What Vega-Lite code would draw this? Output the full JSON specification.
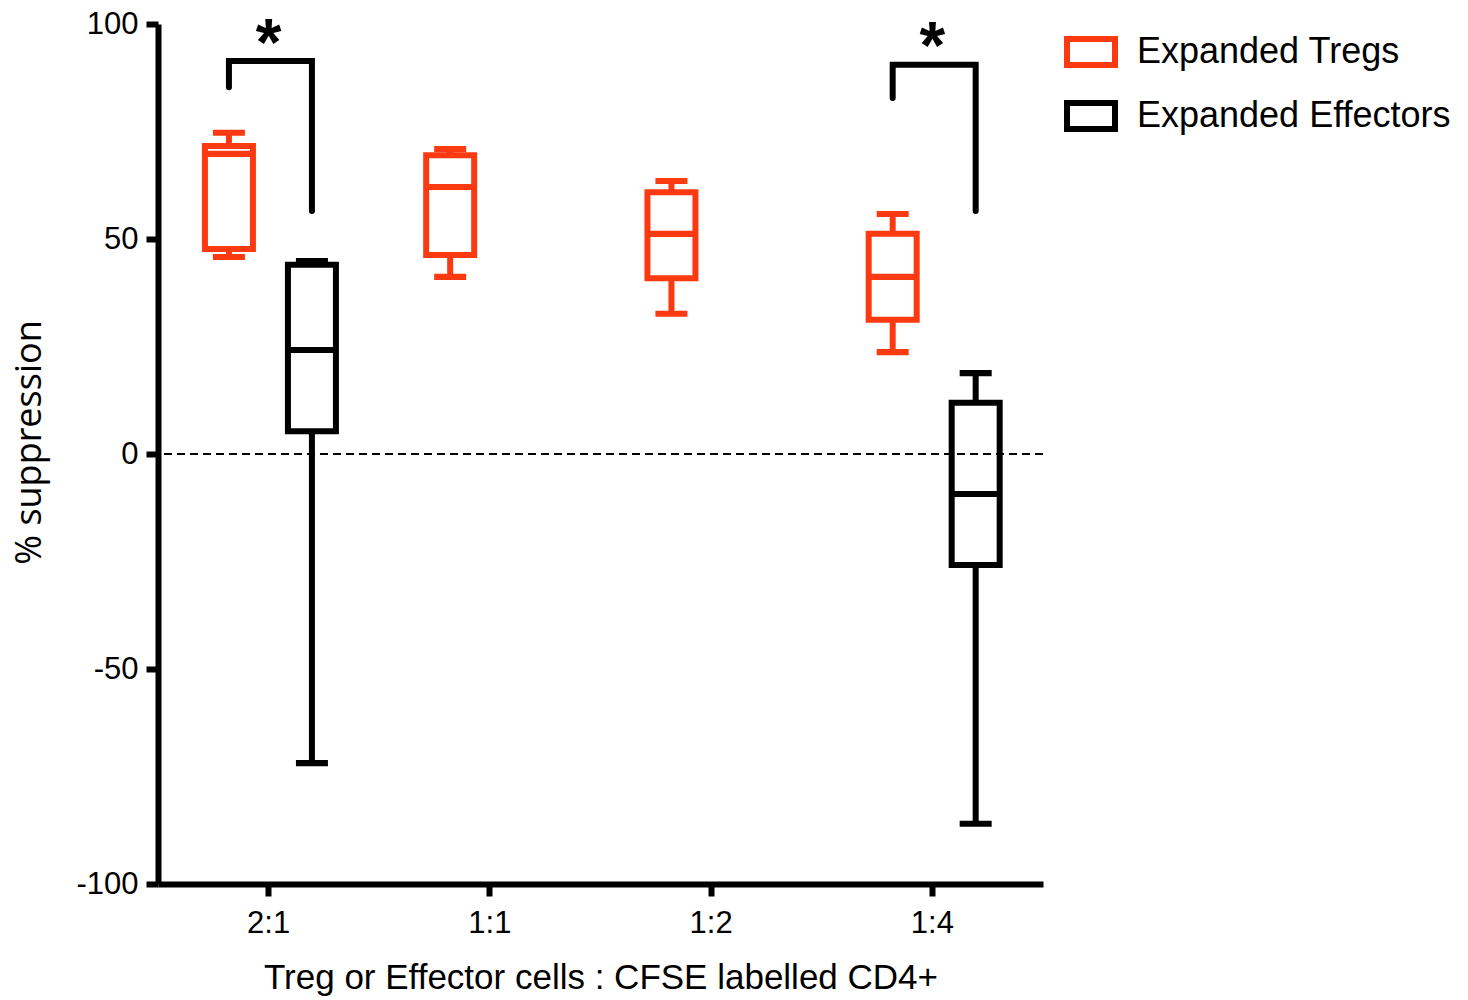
{
  "$schema": "https://vega.github.io/schema/vega-lite/v6.json",
  "width": 885,
  "height": 860,
  "autosize": "none",
  "padding": {"left": 158, "top": 24, "right": 425, "bottom": 116},
  "background": "white",
  "config": {
    "view": {"stroke": null},
    "font": "Liberation Sans",
    "tick": {"opacity": 1},
    "axis": {
      "grid": false,
      "domainColor": "black",
      "domainWidth": 6,
      "tickColor": "black",
      "tickWidth": 6,
      "tickSize": 12,
      "labelFont": "Liberation Sans",
      "labelFontSize": 31,
      "labelColor": "black",
      "titleFont": "Liberation Sans",
      "titleFontSize": 35,
      "titleFontWeight": "normal",
      "titleColor": "black"
    },
    "legend": {
      "orient": "none",
      "legendX": 906,
      "legendY": 1,
      "labelFont": "Liberation Sans",
      "labelFontSize": 36,
      "labelColor": "black",
      "labelLimit": 0,
      "symbolType": "M-1,-0.54H1V0.54H-1Z",
      "symbolSize": 2304,
      "symbolStrokeWidth": 6,
      "symbolFillColor": "white",
      "symbolOpacity": 1,
      "labelOffset": 19,
      "rowPadding": 12,
      "title": null
    }
  },
  "datasets": {
    "boxes": [
      {"ratio": "2:1", "group": "Expanded Tregs", "min": 45.8, "q1": 47.7, "median": 69.8, "q3": 71.6, "max": 74.7},
      {"ratio": "2:1", "group": "Expanded Effectors", "min": -71.9, "q1": 5.3, "median": 24.2, "q3": 44.0, "max": 44.9},
      {"ratio": "1:1", "group": "Expanded Tregs", "min": 41.2, "q1": 46.3, "median": 62.1, "q3": 69.5, "max": 70.9},
      {"ratio": "1:2", "group": "Expanded Tregs", "min": 32.6, "q1": 40.9, "median": 51.2, "q3": 60.9, "max": 63.5},
      {"ratio": "1:4", "group": "Expanded Tregs", "min": 23.7, "q1": 31.2, "median": 41.2, "q3": 51.2, "max": 55.8},
      {"ratio": "1:4", "group": "Expanded Effectors", "min": -86.0, "q1": -25.8, "median": -9.3, "q3": 11.9, "max": 18.8}
    ],
    "brackets": [
      {"ratio": "2:1", "group": "Expanded Tregs", "value": 85.3, "bracket": "a", "o": 1},
      {"ratio": "2:1", "group": "Expanded Tregs", "value": 91.4, "bracket": "a", "o": 2},
      {"ratio": "2:1", "group": "Expanded Effectors", "value": 91.4, "bracket": "a", "o": 3},
      {"ratio": "2:1", "group": "Expanded Effectors", "value": 56.5, "bracket": "a", "o": 4},
      {"ratio": "1:4", "group": "Expanded Tregs", "value": 82.8, "bracket": "b", "o": 1},
      {"ratio": "1:4", "group": "Expanded Tregs", "value": 90.5, "bracket": "b", "o": 2},
      {"ratio": "1:4", "group": "Expanded Effectors", "value": 90.5, "bracket": "b", "o": 3},
      {"ratio": "1:4", "group": "Expanded Effectors", "value": 56.5, "bracket": "b", "o": 4}
    ],
    "stars": [
      {"ratio": "2:1", "value": 98.0, "label": "*"},
      {"ratio": "1:4", "value": 97.3, "label": "*"}
    ]
  },
  "data": {"name": "boxes"},
  "encoding": {
    "x": {
      "field": "ratio",
      "type": "nominal",
      "sort": ["2:1", "1:1", "1:2", "1:4"],
      "scale": {"domain": ["2:1", "1:1", "1:2", "1:4"], "paddingInner": 0, "paddingOuter": 0},
      "axis": {"title": "Treg or Effector cells : CFSE labelled CD4+", "labelAngle": 0, "labelPadding": 12, "titlePadding": 22}
    }
  },
  "layer": [
    {
      "data": {"values": [{"z": 0}]},
      "mark": {"type": "rule", "strokeDash": [8, 5], "strokeWidth": 2, "color": "black"},
      "encoding": {"x": null, "y": {"field": "z", "type": "quantitative"}}
    },
    {
      "mark": {"type": "bar", "filled": false, "fill": "transparent", "strokeWidth": 6},
      "encoding": {
        "xOffset": {"field": "group", "type": "nominal", "scale": {"domain": ["Expanded Tregs", "Expanded Effectors"], "paddingInner": 0.4217, "paddingOuter": 0.5437, "align": 0.52}},
        "y": {
          "field": "q1",
          "type": "quantitative",
          "scale": {"domain": [-100, 100], "nice": false, "zero": false},
          "axis": {"title": "% suppression", "titleFont": "Open Sans", "titleFontSize": 36, "titleY": 418, "values": [-100, -50, 0, 50, 100], "labelExpr": "'' + datum.value", "labelPadding": 8, "titlePadding": 27}
        },
        "y2": {"field": "q3"},
        "stroke": {
          "field": "group",
          "type": "nominal",
          "scale": {"domain": ["Expanded Tregs", "Expanded Effectors"], "range": ["#fb3a12", "#000000"]}
        }
      }
    },
    {
      "mark": {"type": "rule", "strokeWidth": 6},
      "encoding": {
        "xOffset": {"field": "group", "type": "nominal"},
        "y": {"field": "min", "type": "quantitative"},
        "y2": {"field": "q1"},
        "stroke": {"field": "group", "type": "nominal"}
      }
    },
    {
      "mark": {"type": "rule", "strokeWidth": 6},
      "encoding": {
        "xOffset": {"field": "group", "type": "nominal"},
        "y": {"field": "q3", "type": "quantitative"},
        "y2": {"field": "max"},
        "stroke": {"field": "group", "type": "nominal"}
      }
    },
    {
      "mark": {"type": "tick", "filled": false, "thickness": 0.1, "strokeWidth": 6, "size": 44, "opacity": 1},
      "encoding": {
        "xOffset": {"field": "group", "type": "nominal"},
        "y": {"field": "median", "type": "quantitative"},
        "stroke": {"field": "group", "type": "nominal"}
      }
    },
    {
      "mark": {"type": "tick", "filled": false, "thickness": 0.1, "strokeWidth": 6, "size": 26, "opacity": 1},
      "encoding": {
        "xOffset": {"field": "group", "type": "nominal"},
        "y": {"field": "min", "type": "quantitative"},
        "stroke": {"field": "group", "type": "nominal"}
      }
    },
    {
      "mark": {"type": "tick", "filled": false, "thickness": 0.1, "strokeWidth": 6, "size": 26, "opacity": 1},
      "encoding": {
        "xOffset": {"field": "group", "type": "nominal"},
        "y": {"field": "max", "type": "quantitative"},
        "stroke": {"field": "group", "type": "nominal"}
      }
    },
    {
      "data": {"name": "brackets"},
      "mark": {"type": "line", "strokeWidth": 6, "color": "black", "strokeCap": "round", "strokeJoin": "miter"},
      "encoding": {
        "xOffset": {"field": "group", "type": "nominal"},
        "y": {"field": "value", "type": "quantitative"},
        "detail": {"field": "bracket"},
        "order": {"field": "o", "type": "quantitative"}
      }
    },
    {
      "data": {"name": "stars"},
      "mark": {"type": "text", "fontSize": 66, "fontWeight": "bold", "baseline": "middle", "dy": 12, "color": "black"},
      "encoding": {
        "y": {"field": "value", "type": "quantitative"},
        "text": {"field": "label"}
      }
    }
  ]
}
